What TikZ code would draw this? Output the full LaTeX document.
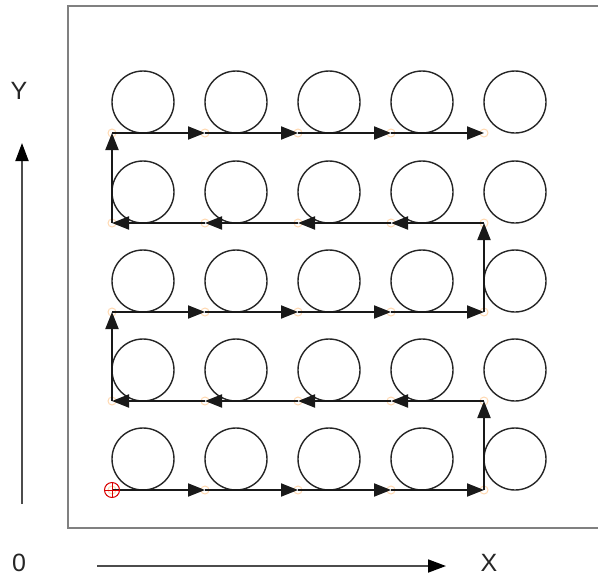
\documentclass[tikz,border=0pt]{standalone}
\usepackage{fontspec}
\setmainfont{Liberation Sans}
\usetikzlibrary{arrows.meta}
\tikzset{
  frame/.style={draw=black!50, line width=2.8pt},
  cell/.style={circle, draw=black!85, line width=1.4pt, minimum size=62pt, inner sep=0pt},
  seg/.style={draw=black!90, line width=2pt, -{Triangle[length=17pt,width=13pt]}},
  axis/.style={draw=black!70, line width=1.8pt, -{Triangle[length=18pt,width=13pt,fill=black,color=black]}},
  marker/.style={circle, draw=orange!30, line width=1pt, minimum size=8pt, inner sep=0pt},
  lab/.style={font=\fontsize{25}{28}\selectfont, text=black!85, inner sep=0pt}
}
\begin{document}
\begin{tikzpicture}[x=1pt,y=-1pt]
\useasboundingbox (0,0) rectangle (598,582);
\draw[frame] (68,6) rectangle (610,528);
% grid points and circles
\foreach \r [count=\ri from 0] in {490,401,312,223,133}{
  \foreach \c [count=\ci from 0] in {112,205,298,391,484}{
    \coordinate (p\ri\ci) at (\c,\r);
    \node[marker] (m\ri\ci) at (\c,\r) {};
    \node[cell] (c\ri\ci) at (\c+31,\r-31) {};
  }
}
% path
\draw[seg] (p00) -- (p01);
\draw[seg] (p01) -- (p02);
\draw[seg] (p02) -- (p03);
\draw[seg] (p03) -- (p04);
\draw[seg] (p04) -- (p14);
\draw[seg] (p14) -- (p13);
\draw[seg] (p13) -- (p12);
\draw[seg] (p12) -- (p11);
\draw[seg] (p11) -- (p10);
\draw[seg] (p10) -- (p20);
\draw[seg] (p20) -- (p21);
\draw[seg] (p21) -- (p22);
\draw[seg] (p22) -- (p23);
\draw[seg] (p23) -- (p24);
\draw[seg] (p24) -- (p34);
\draw[seg] (p34) -- (p33);
\draw[seg] (p33) -- (p32);
\draw[seg] (p32) -- (p31);
\draw[seg] (p31) -- (p30);
\draw[seg] (p30) -- (p40);
\draw[seg] (p40) -- (p41);
\draw[seg] (p41) -- (p42);
\draw[seg] (p42) -- (p43);
\draw[seg] (p43) -- (p44);
% start target
\node[circle, draw=red!85!black, line width=1pt, minimum size=15pt, inner sep=0pt] (start) at (p00) {};
\draw[red!85!black, line width=1pt] (start.north) -- (start.south) (start.west) -- (start.east);
% axes
\coordinate (ya) at (22,504);
\coordinate (yb) at (22,143);
\draw[axis] (ya) -- (yb);
\coordinate (xa) at (97,566);
\coordinate (xb) at (446,566);
\draw[axis] (xa) -- (xb);
\node[lab] (ylab) at (19,91) {Y};
\node[lab] (zero) at (19,563) {0};
\node[lab] (xlab) at (489,563) {X};
\end{tikzpicture}
\end{document}
